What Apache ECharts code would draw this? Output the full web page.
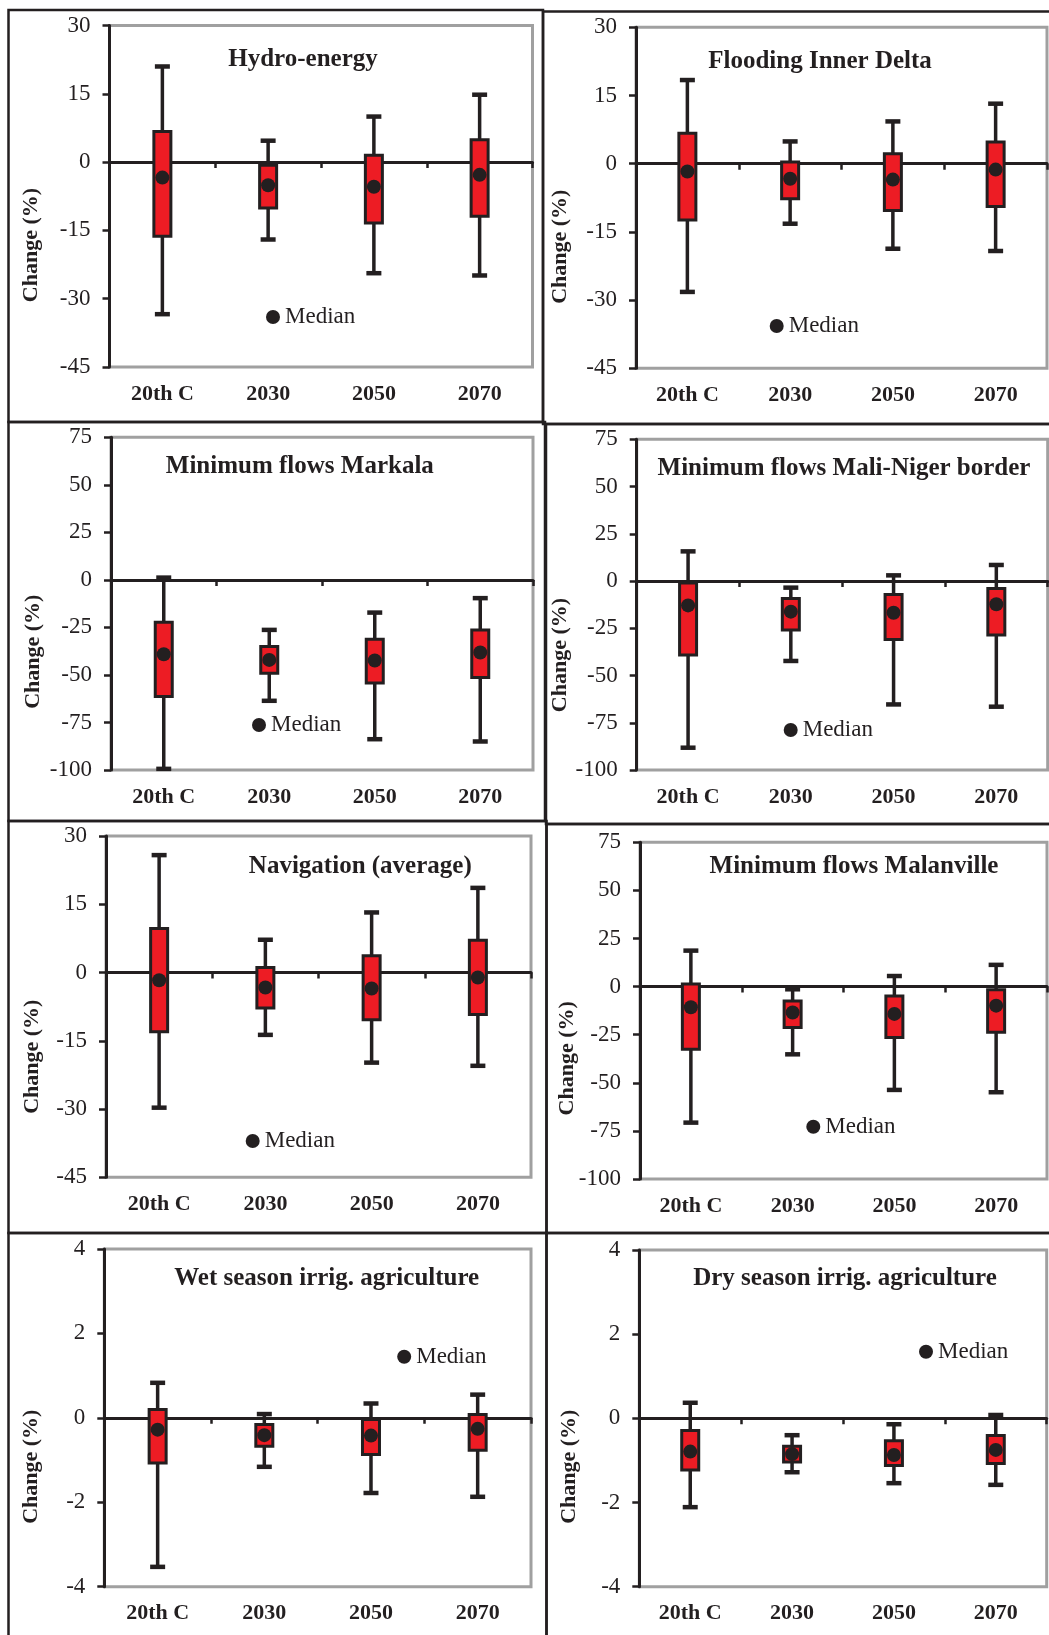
<!DOCTYPE html>
<html>
<head>
<meta charset="utf-8">
<title>Change (%) by period</title>
<script src="https://cdn.jsdelivr.net/npm/echarts@6/dist/echarts.min.js"></script>
<style>
html, body { margin: 0; padding: 0; background: #fff; }
#chart { width: 1049px; height: 1635px; }
</style>
</head>
<body>
<div id="chart"></div>
<script>
// periods on the x axis
var periods = ['20th C', '2030', '2050', '2070'];

// each row: [low whisker, lower quartile, median, upper quartile, high whisker]
var hydroEnergy = [[-33.4, -16.3, -3.4, 6.7, 21.0], [-17.0, -10.1, -5.1, -0.7, 4.7], [-24.4, -13.4, -5.4, 1.5, 10.0], [-24.9, -11.9, -2.8, 4.9, 14.8]];
var floodingDelta = [[-28.2, -12.4, -1.7, 6.7, 18.4], [-13.2, -7.7, -3.3, 0.4, 4.9], [-18.7, -10.3, -3.5, 2.2, 9.3], [-19.2, -9.4, -1.3, 4.8, 13.2]];
var flowsMarkala = [[-99.4, -61.4, -39.1, -22.3, 1.2], [-63.6, -49.1, -42.1, -35.1, -26.3], [-83.8, -54.3, -42.4, -31.2, -17.2], [-85.0, -51.4, -38.2, -26.3, -9.6]];
var flowsMaliNiger = [[-88.2, -39.2, -12.9, -1.0, 15.7], [-42.3, -25.9, -16.2, -9.2, -3.5], [-65.3, -30.9, -16.8, -7.1, 3.0], [-66.5, -28.6, -12.3, -3.9, 8.5]];
var navigation = [[-29.7, -13.0, -1.7, 9.7, 25.8], [-13.7, -7.8, -3.3, 1.1, 7.2], [-19.8, -10.4, -3.5, 3.7, 13.2], [-20.5, -9.2, -1.1, 7.1, 18.6]];
var flowsMalanville = [[-70.7, -32.6, -10.7, 1.4, 18.7], [-35.2, -21.3, -13.5, -7.5, -1.4], [-53.7, -26.5, -14.2, -4.9, 5.5], [-54.9, -23.7, -9.9, -1.7, 11.3]];
var wetSeason = [[-3.53, -1.07, -0.28, 0.20, 0.83], [-1.16, -0.67, -0.41, -0.16, 0.09], [-1.78, -0.87, -0.42, -0.04, 0.34], [-1.87, -0.77, -0.26, 0.08, 0.55]];
var drySeason = [[-2.11, -1.23, -0.79, -0.29, 0.37], [-1.28, -1.04, -0.85, -0.66, -0.40], [-1.54, -1.12, -0.87, -0.53, -0.14], [-1.58, -1.07, -0.75, -0.41, 0.08]];

// y axis [min, max, step]
var rangeSmall = [-45, 30, 15];
var rangeFlows = [-100, 75, 25];
var rangeIrrig = [-4, 4, 2];

var ink = '#231f20';
var red = '#ed1c24';
var serif = '"Liberation Serif", "Times New Roman", serif';

// layout: grid [left, top, width, height], text centres, frame [x0, y0, x1, y1]
var panels = [
    { title: 'Hydro-energy', data: hydroEnergy, range: rangeSmall,
      grid: [109.5, 25.5, 423, 341.5], titleAt: [303, 60], nameAt: [31, 245], legendAt: [273, 317], frame: [8.5, 10, 543, 422] },
    { title: 'Flooding Inner Delta', data: floodingDelta, range: rangeSmall,
      grid: [636, 27.3, 411, 341], titleAt: [820, 61.7], nameAt: [560.7, 246.7], legendAt: [776.7, 326], frame: [543, 11.5, 1060, 424] },
    { title: 'Minimum flows Markala', data: flowsMarkala, range: rangeFlows,
      grid: [111, 437.3, 422, 332.7], titleAt: [299.8, 466.7], nameAt: [33, 651.7], legendAt: [259, 725], frame: [8.5, 422, 545, 821] },
    { title: 'Minimum flows Mali-Niger border', data: flowsMaliNiger, range: rangeFlows,
      grid: [636.7, 439.3, 411, 330.7], titleAt: [844, 468.3], nameAt: [560.7, 655], legendAt: [790.7, 730], frame: [546, 424, 1060, 824] },
    { title: 'Navigation (average)', data: navigation, range: rangeSmall,
      grid: [106, 836, 425, 341.3], titleAt: [360.3, 866.7], nameAt: [32.3, 1056.7], legendAt: [252.7, 1141], frame: [8.5, 821, 546.5, 1233] },
    { title: 'Minimum flows Malanville', data: flowsMalanville, range: rangeFlows,
      grid: [640, 842.3, 407, 336.7], titleAt: [854, 866.7], nameAt: [567.3, 1058.3], legendAt: [813.3, 1126.7], frame: [546.5, 824, 1060, 1233] },
    { title: 'Wet season irrig. agriculture', data: wetSeason, range: rangeIrrig,
      grid: [104.3, 1249, 426.7, 337.7], titleAt: [326.7, 1278.3], nameAt: [31.3, 1466.7], legendAt: [404.2, 1356.7], frame: [8.5, 1233, 546.5, 1650] },
    { title: 'Dry season irrig. agriculture', data: drySeason, range: rangeIrrig,
      grid: [639.3, 1250, 407.4, 336.7], titleAt: [845, 1278.3], nameAt: [569.3, 1466.7], legendAt: [926, 1351.7], frame: [546.5, 1233, 1060, 1650] }
];

function renderBox(params, api) {
    var cat = api.value(0);
    var low = api.coord([cat, api.value(1)]);
    var q1 = api.coord([cat, api.value(2)]);
    var med = api.coord([cat, api.value(3)]);
    var q3 = api.coord([cat, api.value(4)]);
    var high = api.coord([cat, api.value(5)]);
    var x = low[0];
    return {
        type: 'group',
        children: [
            { type: 'line', shape: { x1: x, y1: high[1], x2: x, y2: low[1] }, style: { stroke: ink, lineWidth: 3.5 } },
            { type: 'line', shape: { x1: x - 7.5, y1: high[1], x2: x + 7.5, y2: high[1] }, style: { stroke: ink, lineWidth: 4.5 } },
            { type: 'line', shape: { x1: x - 7.5, y1: low[1], x2: x + 7.5, y2: low[1] }, style: { stroke: ink, lineWidth: 4.5 } },
            { type: 'rect', shape: { x: x - 8.5, y: q3[1], width: 17, height: q1[1] - q3[1] }, style: { fill: red, stroke: ink, lineWidth: 3 } },
            { type: 'circle', shape: { cx: x, cy: med[1], r: 7 }, style: { fill: ink } }
        ]
    };
}

var grids = [], xAxes = [], yAxes = [], series = [], legends = [], graphics = [];

panels.forEach(function (p, i) {
    grids.push({
        left: p.grid[0], top: p.grid[1], width: p.grid[2], height: p.grid[3],
        show: true, borderColor: '#a0a0a0', borderWidth: 3, backgroundColor: 'transparent'
    });
    // labels along the bottom
    xAxes.push({
        type: 'category', gridIndex: i, data: periods, position: 'bottom',
        axisLine: { show: false, onZero: false },
        axisTick: { show: false },
        axisLabel: { margin: 16, fontFamily: serif, fontSize: 22, fontWeight: 'bold', color: ink }
    });
    // the zero line with the period ticks
    xAxes.push({
        type: 'category', gridIndex: i, data: periods, position: 'bottom',
        axisLine: { onZero: true, lineStyle: { color: ink, width: 3 } },
        axisTick: { show: true, length: 6, lineStyle: { color: ink, width: 2.5 } },
        axisLabel: { show: false }
    });
    yAxes.push({
        type: 'value', gridIndex: i, min: p.range[0], max: p.range[1], interval: p.range[2],
        splitLine: { show: false },
        axisLine: { show: true, lineStyle: { color: ink, width: 3 } },
        axisTick: { show: true, length: 7, lineStyle: { color: ink, width: 2.5 } },
        axisLabel: { margin: 19, fontFamily: serif, fontSize: 23, color: ink }
    });
    series.push({
        type: 'custom', name: 'Median', xAxisIndex: 2 * i, yAxisIndex: i,
        itemStyle: { color: ink },
        renderItem: renderBox,
        encode: { x: 0, y: [1, 2, 3, 4, 5] },
        data: p.data.map(function (row, k) { return [k].concat(row); })
    });
    legends.push({
        data: [{ name: 'Median', icon: 'circle' }],
        left: p.legendAt[0] - 7, top: p.legendAt[1] - 11.5,
        itemWidth: 14, itemHeight: 14, padding: 0, selectedMode: false,
        textStyle: { fontFamily: serif, fontSize: 23, color: ink }
    });
    graphics.push({
        type: 'rect', silent: true,
        shape: { x: p.frame[0], y: p.frame[1], width: p.frame[2] - p.frame[0], height: p.frame[3] - p.frame[1] },
        style: { fill: 'none', stroke: ink, lineWidth: 2.5 }
    });
    graphics.push({
        type: 'text', x: p.titleAt[0], y: p.titleAt[1],
        style: { text: p.title, x: 0, y: 0, textAlign: 'center', textVerticalAlign: 'middle', font: 'bold 25px ' + serif, fill: ink }
    });
    graphics.push({
        type: 'text', x: p.nameAt[0], y: p.nameAt[1], rotation: Math.PI / 2,
        style: { text: 'Change (%)', x: 0, y: 0, textAlign: 'center', textVerticalAlign: 'middle', font: 'bold 22px ' + serif, fill: ink }
    });
});

var chart = echarts.init(document.getElementById('chart'));
chart.setOption({
    animation: false,
    backgroundColor: '#fff',
    grid: grids,
    xAxis: xAxes,
    yAxis: yAxes,
    legend: legends,
    graphic: graphics,
    series: series
});
</script>
</body>
</html>
